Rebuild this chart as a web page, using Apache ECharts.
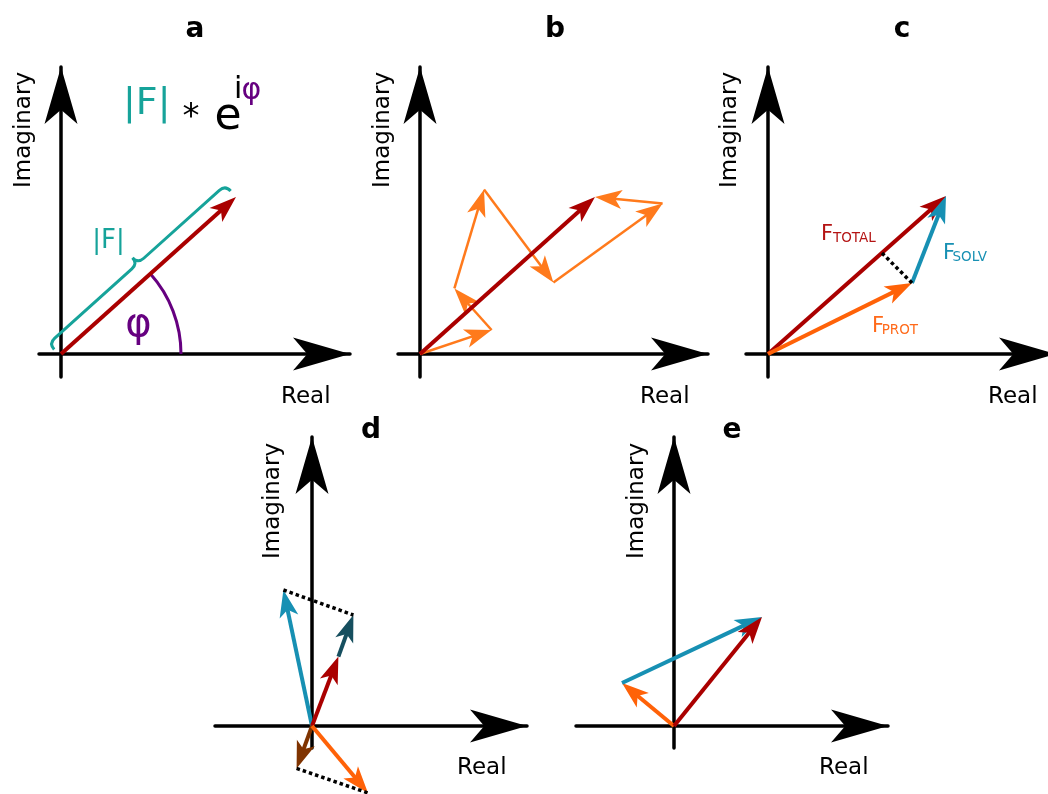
<!DOCTYPE html>
<html>
<head>
<meta charset="utf-8">
<script src="https://cdn.jsdelivr.net/npm/echarts/dist/echarts.min.js"></script>
<style>
  html, body { margin: 0; padding: 0; background: #fff; }
  #chart { width: 1048px; height: 794px; }
</style>
</head>
<body>
<div id="chart"></div>
<script>
// ---- data (units of the complex plane, origin at 0) ----
// panel a
const aTotal = [[0, 0, 8.75, 7.85]];
const aPhaseRadius = [[0, 0, 6]];
// panel b: random walk of atom contributions
const bTotal = [[0, 0, 8.75, 7.85]];
const bSteps = [[0, 0], [3.58, 1.2], [1.72, 3.28], [3.2, 8.23], [6.67, 3.57], [12.13, 7.53], [8.75, 7.85]];
// panel c
const cTotal = [[0, 0, 8.9, 7.9]];
const cProt = [[0, 0, 7.2, 3.55]];
const cSolv = [[7.2, 3.55, 8.9, 7.9]];
const cDotted = [[7.2, 3.55, 5.7, 5.05]];
// panel d
const dBlue = [[0, 0, -1.43, 6.8]];
const dRed = [[0, 0, 1.32, 3.47]];
const dTeal = [[1.32, 3.47, 2.07, 5.55]];
const dBrown = [[0, 0, -0.77, -2.12]];
const dOrange = [[0, 0, 2.8, -3.35]];
const dDotted = [[-1.43, 6.8, 2.07, 5.55], [-0.77, -2.12, 2.8, -3.35]];
// panel e
const eProt = [[0, 0, -2.6, 2.15]];
const eSolv = [[-2.6, 2.15, 4.4, 5.45]];
const eTotal = [[0, 0, 4.4, 5.45]];

// ---- layout (pixels) ----
const S = 20; // px per unit
const layout = [
    { ox: 61, oy: 354, left: 39, tipX: 350, bottom: 377, tipY: 67 },
    { ox: 420, oy: 354, left: 398, tipX: 708, bottom: 377, tipY: 67 },
    { ox: 768, oy: 354, left: 746, tipX: 1056, bottom: 377, tipY: 67 },
    { ox: 312, oy: 726, left: 215, tipX: 527, bottom: 748, tipY: 437 },
    { ox: 674, oy: 726, left: 576, tipX: 888, bottom: 748, tipY: 437 }
];

const RED = '#aa0000', TEAL = '#16a39a', PURPLE = '#660080';
const ORANGE_B = '#ff7a1c', ORANGE = '#ff6208', BLUE = '#1790b3';
const DARKTEAL = '#164f5f', BROWN = '#7f3300';
const FONT = '"DejaVu Sans", sans-serif';

const grids = layout.map(p => ({
    left: p.left,
    top: p.tipY,
    width: p.tipX - p.left,
    height: p.bottom - p.tipY,
    outerBoundsMode: 'none'
}));

const axisCommon = {
    type: 'value',
    axisTick: { show: false },
    axisLabel: { show: false },
    splitLine: { show: false },
    axisLine: {
        onZero: true,
        symbol: ['none', 'arrow'],
        symbolSize: [24.75, 57],
        lineStyle: { color: '#000', width: 3.5 }
    }
};
const xAxes = layout.map((p, i) => Object.assign({}, axisCommon, {
    gridIndex: i,
    min: (p.left - p.ox) / S,
    max: (p.tipX - p.ox) / S
}));
const yAxes = layout.map((p, i) => Object.assign({}, axisCommon, {
    gridIndex: i,
    min: -(p.bottom - p.oy) / S,
    max: (p.oy - p.tipY) / S
}));

function arrowRenderer(color, lw, headLen, headW) {
    return function (params, api) {
        const p1 = api.coord([api.value(0), api.value(1)]);
        const p2 = api.coord([api.value(2), api.value(3)]);
        const dx = p2[0] - p1[0], dy = p2[1] - p1[1];
        const len = Math.hypot(dx, dy);
        const ux = dx / len, uy = dy / len;
        const nx = -uy, ny = ux;
        const bx = p2[0] - ux * headLen, by = p2[1] - uy * headLen;
        return {
            type: 'group',
            children: [
                {
                    type: 'line',
                    shape: { x1: p1[0], y1: p1[1], x2: p2[0] - ux * headLen * 0.6, y2: p2[1] - uy * headLen * 0.6 },
                    style: { stroke: color, lineWidth: lw }
                },
                {
                    type: 'polygon',
                    shape: {
                        points: [
                            [p2[0], p2[1]],
                            [bx + nx * headW / 2, by + ny * headW / 2],
                            [p2[0] - ux * headLen * 0.75, p2[1] - uy * headLen * 0.75],
                            [bx - nx * headW / 2, by - ny * headW / 2]
                        ]
                    },
                    style: { fill: color }
                }
            ]
        };
    };
}

function dottedRenderer(params, api) {
    const p1 = api.coord([api.value(0), api.value(1)]);
    const p2 = api.coord([api.value(2), api.value(3)]);
    return {
        type: 'line',
        shape: { x1: p1[0], y1: p1[1], x2: p2[0], y2: p2[1] },
        style: { stroke: '#000', lineWidth: 3.5, lineDash: [3.5, 3] }
    };
}

function braceRenderer(params, api) {
    const p1 = api.coord([api.value(0), api.value(1)]);
    const p2 = api.coord([api.value(2), api.value(3)]);
    const dx = p2[0] - p1[0], dy = p2[1] - p1[1];
    const len = Math.hypot(dx, dy);
    const ux = dx / len, uy = dy / len;
    const px = uy, py = -ux;
    const pt = (u, v) => (p1[0] + u * ux + v * px).toFixed(2) + ' ' + (p1[1] + u * uy + v * py).toFixed(2);
    const v0 = 8, v1 = 16, v2 = 24, r = 8, h = len / 2;
    const d = 'M' + pt(-2, v0) + ' Q' + pt(-2, v1) + ' ' + pt(r - 2, v1) +
        ' L' + pt(h - r, v1) + ' Q' + pt(h, v1) + ' ' + pt(h, v2) +
        ' Q' + pt(h, v1) + ' ' + pt(h + r, v1) +
        ' L' + pt(len - r, v1) + ' Q' + pt(len, v1) + ' ' + pt(len, v0);
    return {
        type: 'path',
        shape: { pathData: d },
        style: { stroke: TEAL, lineWidth: 3, fill: 'none' }
    };
}

function arcRenderer(params, api) {
    const c = api.coord([api.value(0), api.value(1)]);
    const r = api.size([api.value(2), 0])[0];
    const tip = api.coord([aTotal[0][2], aTotal[0][3]]);
    const ang = Math.atan2(tip[1] - c[1], tip[0] - c[0]);
    return {
        type: 'arc',
        shape: { cx: c[0], cy: c[1], r: r, startAngle: ang, endAngle: 0, clockwise: true },
        style: { stroke: PURPLE, lineWidth: 3, fill: 'none' }
    };
}

function custom(panel, data, renderItem) {
    return {
        type: 'custom',
        xAxisIndex: panel,
        yAxisIndex: panel,
        data: data,
        renderItem: renderItem,
        silent: true,
        clip: false
    };
}
function vec(panel, data, color, lw, head) {
    return custom(panel, data, arrowRenderer(color, lw, head[0], head[1]));
}

const bSegments = bSteps.slice(1).map((pt, i) => [bSteps[i][0], bSteps[i][1], pt[0], pt[1]]);

const MAIN = [27, 19];
const LW = 4;
const series = [
    custom(0, aPhaseRadius, arcRenderer),
    custom(0, aTotal, braceRenderer),
    vec(0, aTotal, RED, LW, MAIN),

    vec(1, bSegments, ORANGE_B, 2.5, [27, 19]),
    vec(1, bTotal, RED, LW, MAIN),

    vec(2, cTotal, RED, LW, MAIN),
    vec(2, cProt, ORANGE, LW, MAIN),
    vec(2, cSolv, BLUE, LW, MAIN),
    custom(2, cDotted, dottedRenderer),

    vec(3, dBlue, BLUE, LW, MAIN),
    vec(3, dRed, RED, LW, MAIN),
    vec(3, dTeal, DARKTEAL, LW, MAIN),
    vec(3, dBrown, BROWN, LW, MAIN),
    vec(3, dOrange, ORANGE, LW, MAIN),
    custom(3, dDotted, dottedRenderer),

    vec(4, eProt, ORANGE, LW, MAIN),
    vec(4, eSolv, BLUE, LW, MAIN),
    vec(4, eTotal, RED, LW, MAIN)
];

// x, y: text middle line, corrected by a small shift towards the baseline
function label(text, x, y, size, color, align, opts) {
    opts = opts || {};
    const shift = 0.15 * size;
    const rot = opts.rotation || 0;
    return {
        type: 'text',
        x: rot ? x + shift : x,
        y: rot ? y : y + shift,
        rotation: rot,
        silent: true,
        style: {
            text: text,
            fill: color,
            fontSize: size,
            fontFamily: FONT,
            fontWeight: opts.bold ? 'bold' : 'normal',
            align: align,
            textAlign: align,
            verticalAlign: 'middle',
            textVerticalAlign: 'middle'
        }
    };
}

const titles = [['a', 195, 25.3], ['b', 555, 25.3], ['c', 902, 25.3], ['d', 371, 426.3], ['e', 732, 426.3]];
const realPos = [[281, 394], [640, 394], [988, 394], [457, 764.7], [819, 764.7]];
const imagPos = [[20.5, 130], [380, 130], [727, 130], [270, 501], [634, 501]];

const texts = []
    .concat(titles.map(t => label(t[0], t[1], t[2], 28, '#000', 'center', { bold: true })))
    .concat(realPos.map(p => label('Real', p[0], p[1], 23, '#000', 'left')))
    .concat(imagPos.map(p => label('Imaginary', p[0], p[1], 23, '#000', 'center', { rotation: Math.PI / 2 })))
    .concat([
        // formula in panel a
        label('|F|', 123, 98, 38, TEAL, 'left'),
        label('*', 191, 113, 34, '#000', 'center'),
        label('e', 214.5, 111.3, 44, '#000', 'left'),
        label('i', 234, 86, 30, '#000', 'left'),
        label('φ', 241.5, 87, 30, PURPLE, 'left'),
        label('|F|', 108.5, 236.9, 26, TEAL, 'center'),
        label('φ', 138.5, 320, 40, PURPLE, 'center'),
        // panel c labels
        label('F', 821, 231.1, 21, '#b41414', 'left'),
        label('TOTAL', 833, 236.5, 13.5, '#b41414', 'left'),
        label('F', 943, 250.6, 21, BLUE, 'left'),
        label('SOLV', 952.5, 255.5, 13.5, BLUE, 'left'),
        label('F', 872, 323.1, 21, '#ff6a1a', 'left'),
        label('PROT', 881.7, 328.5, 13.5, '#ff6a1a', 'left')
    ]);

const chart = echarts.init(document.getElementById('chart'), null, { renderer: 'canvas' });
chart.setOption({
    backgroundColor: '#fff',
    animation: false,
    grid: grids,
    xAxis: xAxes,
    yAxis: yAxes,
    series: series,
    graphic: { elements: texts }
});
</script>
</body>
</html>
